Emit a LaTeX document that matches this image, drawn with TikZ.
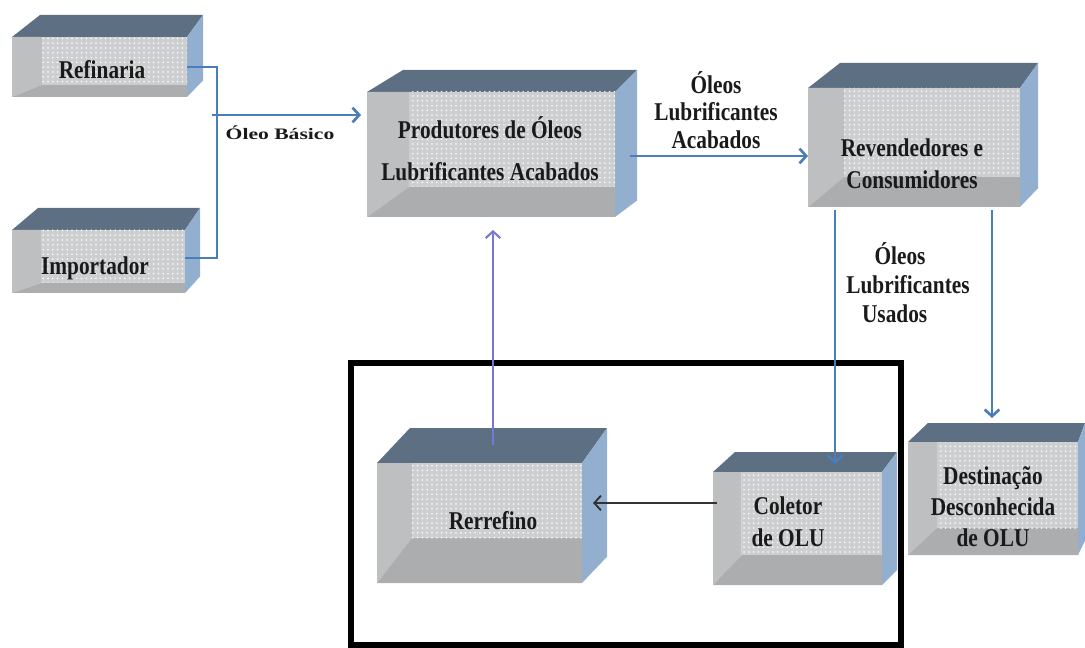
\documentclass[tikz,border=0pt]{standalone}
\usepackage{fontspec}
\setmainfont{Liberation Serif}
\usepackage{graphicx}
\usetikzlibrary{arrows.meta,fit,patterns.meta,calc}

\definecolor{topc}{HTML}{5D6F82}
\definecolor{sidec}{HTML}{93AFCF}
\definecolor{leftc}{HTML}{BEBFC1}
\definecolor{lowc}{HTML}{ACADAF}
\definecolor{dotbg}{HTML}{CDCED0}
\definecolor{flowblue}{HTML}{4A7EBB}
\definecolor{flowpurple}{HTML}{7878D2}
\definecolor{inkc}{HTML}{1A1A1A}

\tikzset{
  topface/.style={fill=topc},
  sideface/.style={fill=sidec},
  leftface/.style={fill=leftc},
  lowface/.style={fill=lowc},
  dotface/.style={fill=dotbg},
  dotgrid/.style={pattern={Dots[distance=3.6pt,radius=0.75pt]}, pattern color=white!92!gray},
  facebox/.style={inner sep=0pt, outer sep=0pt},
  lbl/.style={inner sep=0pt, text=inkc},
  pipe/.style={draw=flowblue, line width=2pt},
  flow/.style={draw=flowblue, line width=2pt, -{Straight Barb[length=5pt,width=11pt]}},
  flowp/.style={draw=flowpurple, line width=1.6pt, -{Straight Barb[length=5pt,width=11pt]}},
  backflow/.style={draw=black!80, line width=1.4pt, -{Straight Barb[length=5pt,width=11pt]}},
  frame/.style={draw=black, line width=5.2pt},
}

% 3-D box: name, x1, y1, x2, y2 (front face), top y, top-left x, top-right x, lower edge of dotted panel
\newcommand{\olubox}[9]{%
  \pgfmathsetmacro\bxdot{#2+0.17*(#4-#2)}%
  \pgfmathsetmacro\bybr{#5-0.75*(#3-#6)}%
  \fill[topface] (#2,#3) -- (#7,#6) -- (#8,#6) -- (#4,#3) -- cycle;
  \fill[sideface] (#4,#3) -- (#8,#6) -- (#8,\bybr) -- (#4,#5) -- cycle;
  \fill[leftface] (#2,#3) -- (\bxdot,#3) -- (\bxdot,#9) -- (#2,#5) -- cycle;
  \fill[lowface] (#2,#5) -- (\bxdot,#9) -- (#4,#9) -- (#4,#5) -- cycle;
  \fill[dotface] (\bxdot,#3) rectangle (#4,#9);
  \fill[dotgrid] (\bxdot,#3) rectangle (#4,#9);
  \node[facebox, fit={(#2,#3) (#4,#5)}] (#1) {};
}

% bold serif text block, slightly tall
\newcommand{\boxtxt}[2]{\scalebox{1}[1.2]{\fontsize{16}{#1}\selectfont\bfseries\begin{tabular}{@{}c@{}}#2\end{tabular}}}

\begin{document}
\begin{tikzpicture}[x=0.75pt,y=-0.75pt]
\useasboundingbox (0,0) rectangle (1085,648);

% boxes
\olubox{ref}{12}{37}{187}{97}{15}{40}{203}{85}
\olubox{imp}{12}{230}{185}{293}{208}{38}{200}{283}
\olubox{prod}{367}{92}{615}{217}{70}{403}{637}{187}
\olubox{rev}{808}{88}{1020}{207}{63}{840}{1038}{177}
\olubox{rer}{377}{463}{582}{583}{428}{410}{607}{538}
\olubox{col}{713}{472}{882}{585}{452}{735}{897}{555}
\olubox{des}{908}{442}{1078}{555}{423}{928}{1085}{528}

% box texts
\node[lbl] (t-ref) at (102,72) {\boxtxt{20pt}{Refinaria}};
\node[lbl] (t-imp) at (95,268) {\boxtxt{20pt}{Importador}};
\node[lbl] (t-prod) at (490,151) {\boxtxt{26.25pt}{Produtores de Óleos\\Lubrificantes Acabados}};
\node[lbl] (t-rev) at (912,166) {\boxtxt{20pt}{Revendedores e\\Consumidores}};
\node[lbl] (t-rer) at (493,523) {\boxtxt{20pt}{Rerrefino}};
\node[lbl] (t-col) at (788,524) {\boxtxt{20pt}{Coletor\\de OLU}};
\node[lbl] (t-des) at (993,509) {\boxtxt{19.4pt}{Destinação\\Desconhecida\\de OLU}};

% re-refining area
\draw[frame] (351,363) rectangle (901,645);

% base oil supply
\coordinate (bj) at (217,258);
\coordinate (bs) at (212,115);
\draw[pipe] (ref.east) -| (bj) -- (bj -| imp.east);
\draw[flow] (bs) -- ($(bs -| prod.west)+(-6,0)$);
\node[lbl] (l-base) at (280,133) {\scalebox{1.35}[1]{\fontsize{12}{14}\selectfont\bfseries Óleo Básico}};

% finished lubricants
\coordinate (pa) at (630,156);
\draw[flow] (pa) -- (pa -| rev.west);
\node[lbl] (l-fin) at (716,114) {\boxtxt{17.2pt}{Óleos\\Lubrificantes\\Acabados}};

% used lubricants
\coordinate (ra) at (835,210);
\coordinate (rb) at (992,210);
\draw[flow] (ra) -- ($(ra |- col.north)+(0,-8)$);
\draw[flow] (rb) -- ($(rb |- des.north)+(0,-24)$);
\node[lbl] (l-used) at (908,287) {\boxtxt{18.1pt}{\hspace*{-12pt}Óleos\\Lubrificantes\\\hspace*{-20pt}Usados}};

% collection and re-refining loop
\coordinate (ca) at (717,503);
\draw[backflow] (ca) -- ($(ca -| rer.east)+(11,0)$);
\coordinate (rr) at (493,445);
\draw[flowp] (rr) -- ($(rr |- prod.south)+(0,13)$);

\end{tikzpicture}
\end{document}
